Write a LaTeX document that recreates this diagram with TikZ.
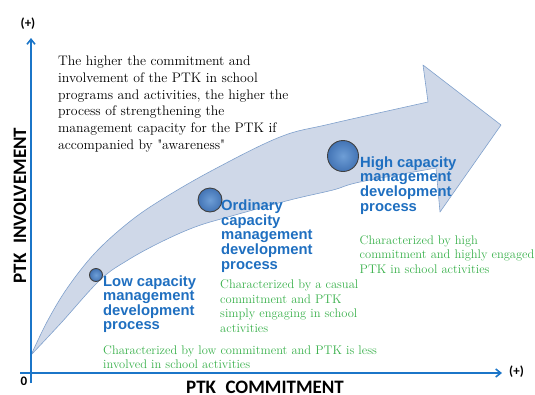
\documentclass[tikz,border=0pt]{standalone}
\usepackage{fontspec}
\newfontfamily\stagefont{Liberation Sans}
\newfontfamily\axisfont{Carlito}
\usetikzlibrary{arrows.meta}

\definecolor{axisblue}{HTML}{1B75C8}
\definecolor{bandfill}{HTML}{CFD8E8}
\definecolor{bandline}{HTML}{7FA0CC}
\definecolor{stageblue}{HTML}{1F6FC0}
\definecolor{notegreen}{HTML}{38B04A}
\definecolor{ballin}{HTML}{6E9ED6}
\definecolor{ballout}{HTML}{4374B5}

% multi-line nodes are anchored on the baseline of their last line
\tikzset{
  axisline/.style={draw=axisblue, line width=2pt,
    -{Straight Barb[length=5pt,width=8pt,line width=1.6pt]}},
  band/.style={fill=bandfill, draw=bandline, line width=0.6pt, line join=round},
  ball/.style={circle, inner sep=0pt, draw=black!75, line width=0.9pt,
    inner color=ballin, outer color=ballout},
  stage/.style={anchor=base west, align=left, inner sep=0pt, text=stageblue,
    font=\stagefont\bfseries\fontsize{14.8}{14.6}\selectfont},
  note/.style={anchor=base west, align=left, inner sep=0pt, text=notegreen,
    font=\fontsize{12.5}{14.7}\selectfont},
  claim/.style={anchor=base west, align=left, inner sep=0pt, text=black,
    font=\fontsize{13.8}{16.7}\selectfont},
  axislbl/.style={anchor=base, inner sep=0pt, text=black,
    font=\axisfont\bfseries\fontsize{19}{19}\selectfont},
  axismark/.style={inner sep=0pt, text=black,
    font=\axisfont\bfseries\fontsize{13}{13}\selectfont},
}

\begin{document}
\begin{tikzpicture}[x=1pt,y=-1pt]
\useasboundingbox (0,0) rectangle (535,394);

% curved growth arrow
\path[band]
  plot[smooth,tension=0.6] coordinates {(31,355) (48,320) (68,287) (95,253)
     (128,223) (161,200) (213,170) (280,137) (330,124) (428,102)}
  -- (423,65) -- (501,125) -- (440,212) -- (436,168)
  -- plot[smooth,tension=0.6] coordinates {(436,168) (360,182) (333,190)
     (290,200) (228,217) (195,227) (161,242) (128,260) (100,280) (61,323) (31,355)}
  -- cycle;

% axes
\coordinate (ybot) at (31,383);
\coordinate (ytip) at (31,38);
\coordinate (xleft) at (20,373);
\coordinate (xtip) at (502,373);
\draw[axisline] (ybot) -- (ytip);
\draw[axisline] (xleft) -- (xtip);

\node[axismark] (yplus) at (28,24) {(+)};
\node[axismark] (xplus) at (516.5,371.5) {(+)};
\node[axismark] (zero) at (24,381) {0};

\node[axislbl, rotate=90] (ylabel) at (26,205.5) {PTK\hspace{0.5em}INVOLVEMENT};
\node[axislbl] (xlabel) at (265,393) {PTK\hspace{0.5em}COMMITMENT};

% stage markers
\node[ball, minimum size=13pt] (lowball) at (96,275) {};
\node[ball, minimum size=24pt] (midball) at (210,200) {};
\node[ball, minimum size=31pt] (highball) at (343,156) {};

% stage names
\node[stage] (lowname) at (103,329.8) {Low capacity\\management\\development\\process};
\node[stage] (midname) at (221,269.1) {Ordinary\\capacity\\management\\development\\process};
\node[stage] (highname) at (360,211.1) {High capacity\\management\\development\\process};

% stage descriptions
\node[note] (lownote) at (103,368.7) {Characterized by low commitment and PTK is less\\involved in school activities};
\node[note] (midnote) at (220,332.4) {Characterized by a casual\\commitment and PTK\\simply engaging in school\\activities};
\node[note] (highnote) at (359.5,273.4) {Characterized by high\\commitment and highly engaged\\PTK in school activities};

% overall statement
\node[claim] (claim) at (58,149.2) {The higher the commitment and\\involvement of the PTK in school\\programs and activities, the higher the\\process of strengthening the\\management capacity for the PTK if\\accompanied by \textquotedbl awareness\textquotedbl};
\end{tikzpicture}
\end{document}
